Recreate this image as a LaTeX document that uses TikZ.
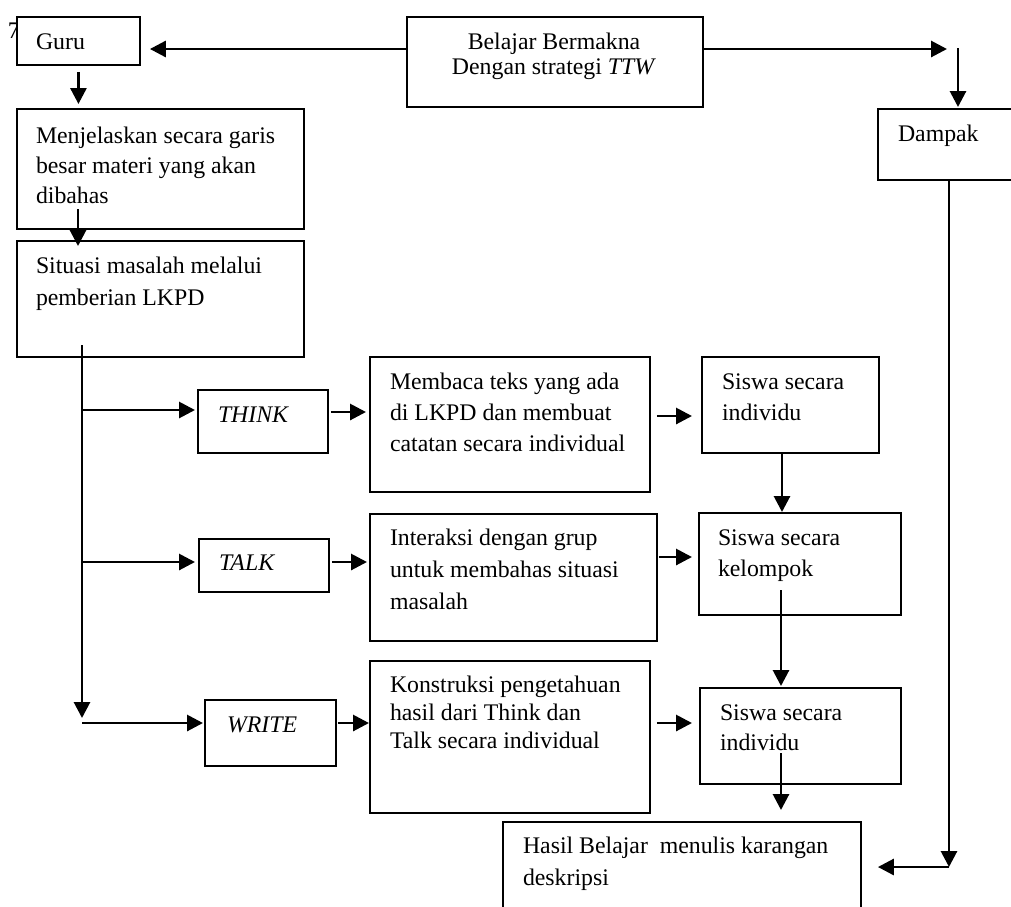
\documentclass[tikz,border=0pt]{standalone}
\usepackage{fontspec}
\setmainfont{Liberation Serif}
\usetikzlibrary{arrows.meta,calc}
\newcommand{\fstrut}{\rule{0pt}{17pt}}
\begin{document}
\begin{tikzpicture}[x=1pt,y=-1pt,
  box/.style={draw=black, line width=1.9pt, fill=white, inner sep=0pt, anchor=north west},
  txt/.style={inner sep=0pt, outer sep=0pt, anchor=north west, align=left, font=\fontsize{23.8}{31}\selectfont},
  arr/.style={draw=black, line width=2.9pt, -{Triangle[length=16pt,width=16pt]}}]
\useasboundingbox (0,0) rectangle (1011,906);
\clip (0,0) rectangle (1011,906);
% stray glyph partly hidden behind the first box
\node[txt, anchor=base west] (seven) at (8,38) {7};
% boxes
\node[box, minimum width=123pt, minimum height=48pt] (guru) at (16,16) {};
\node[box, minimum width=296pt, minimum height=90pt] (belajar) at (406,16) {};
\node[box, minimum width=145pt, minimum height=71pt] (dampak) at (877,108) {};
\node[box, minimum width=287pt, minimum height=120pt] (menj) at (16,108) {};
\node[box, minimum width=287pt, minimum height=116pt] (situasi) at (16,240) {};
\node[box, minimum width=130pt, minimum height=63pt] (think) at (197,389) {};
\node[box, minimum width=130pt, minimum height=53pt] (talk) at (198,538) {};
\node[box, minimum width=131pt, minimum height=66pt] (write) at (204,699) {};
\node[box, minimum width=280pt, minimum height=135pt] (membaca) at (369,356) {};
\node[box, minimum width=287pt, minimum height=127pt] (interaksi) at (369,513) {};
\node[box, minimum width=280pt, minimum height=152pt] (konstruksi) at (369,660) {};
\node[box, minimum width=177pt, minimum height=96pt] (siswa1) at (701,356) {};
\node[box, minimum width=202pt, minimum height=102pt] (siswa2) at (698,512) {};
\node[box, minimum width=201pt, minimum height=96pt] (siswa3) at (699,687) {};
\node[box, minimum width=358pt, minimum height=100pt] (hasil) at (502,821) {};
% texts
\node[txt] (tguru) at (36,32) {\fstrut Guru};
\node[txt, anchor=north, align=center, font=\fontsize{23.8}{25}\selectfont] (tbelajar) at (554,32) {\fstrut Belajar Bermakna\\Dengan strategi \textit{TTW}};
\node[txt] (tdampak) at (898,124) {\fstrut Dampak};
\node[txt, font=\fontsize{23.8}{30}\selectfont] (tmenj) at (36,126) {\fstrut Menjelaskan secara garis\\besar materi yang akan\\dibahas};
\node[txt, font=\fontsize{23.8}{32}\selectfont] (tsituasi) at (36,256) {\fstrut Situasi masalah melalui\\pemberian LKPD};
\node[txt] (tthink) at (218,405) {\fstrut\textit{THINK}};
\node[txt] (ttalk) at (219,553) {\fstrut\textit{TALK}};
\node[txt] (twrite) at (227,715) {\fstrut\textit{WRITE}};
\node[txt] (tmembaca) at (390,372) {\fstrut Membaca teks yang ada\\di LKPD dan membuat\\catatan secara individual};
\node[txt, font=\fontsize{23.8}{32}\selectfont] (tinteraksi) at (390,528) {\fstrut Interaksi dengan grup\\untuk membahas situasi\\masalah};
\node[txt, font=\fontsize{23.8}{28}\selectfont] (tkonstruksi) at (390,675) {\fstrut Konstruksi pengetahuan\\hasil dari Think dan\\Talk secara individual};
\node[txt] (tsiswa1) at (722,372) {\fstrut Siswa secara\\individu};
\node[txt] (tsiswa2) at (718,528) {\fstrut Siswa secara\\kelompok};
\node[txt, font=\fontsize{23.8}{30}\selectfont] (tsiswa3) at (720,703) {\fstrut Siswa secara\\individu};
\node[txt, font=\fontsize{23.8}{32}\selectfont] (thasil) at (523,836) {\fstrut Hasil Belajar~ menulis karangan\\deskripsi};
% helper coordinates
\coordinate (y1) at (0,49);
\coordinate (rtop) at (947,49);
\coordinate (dtop) at (958,48);
\coordinate (m5) at (78,209);
\coordinate (tt) at (82,345);
\coordinate (b1) at (82,410);
\coordinate (b2) at (82,562);
\coordinate (b3) at (82,723);
\coordinate (r1) at (0,412);
\coordinate (r2) at (0,562);
\coordinate (r3) at (0,723);
\coordinate (r4) at (0,416);
\coordinate (r5) at (0,557);
\coordinate (c1) at (782,0);
\coordinate (c2) at (781,590);
\coordinate (c3) at (781,753);
\coordinate (dx) at (949,0);
\coordinate (corner) at (949,867);
% connectors
\draw[arr, shorten >=9pt] (belajar.west |- y1) -- (guru.east |- y1);
\draw[arr] (belajar.east |- y1) -- (rtop);
\draw[arr, shorten >=1pt] (dtop) -- (dtop |- dampak.north);
\draw[arr, shorten <=6pt, shorten >=4pt] (guru.south) -- (guru.south |- menj.north);
\draw[arr] (m5) -- ($(m5 |- situasi.north)+(0,-6pt)$);
\draw[arr, shorten >=5pt] (tt) -- (b3);
\draw[arr, shorten >=2pt] (b1) -- (b1 -| think.west);
\draw[arr, shorten >=3pt] (b2) -- (b2 -| talk.west);
\draw[arr, shorten >=1pt] (b3) -- (b3 -| write.west);
\draw[arr, shorten <=2pt, shorten >=3pt] (think.east |- r1) -- (membaca.west |- r1);
\draw[arr, shorten <=2pt, shorten >=2pt] (talk.east |- r2) -- (interaksi.west |- r2);
\draw[arr, shorten <=1pt] (write.east |- r3) -- (konstruksi.west |- r3);
\draw[arr, shorten <=6pt, shorten >=9pt] (membaca.east |- r4) -- (siswa1.west |- r4);
\draw[arr, shorten <=1pt, shorten >=6pt] (interaksi.east |- r5) -- (siswa2.west |- r5);
\draw[arr, shorten <=6pt, shorten >=7pt] (konstruksi.east |- r3) -- (siswa3.west |- r3);
\draw[arr] (siswa1.south -| c1) -- (siswa2.north -| c1);
\draw[arr, shorten >=1pt] (c2) -- (c2 |- siswa3.north);
\draw[arr, shorten >=11pt] (c3) -- (c3 |- hasil.north);
\draw[arr] (dampak.south -| dx) -- (corner);
\draw[arr, shorten >=16pt] (corner) -- (corner -| hasil.east);
\end{tikzpicture}
\end{document}
